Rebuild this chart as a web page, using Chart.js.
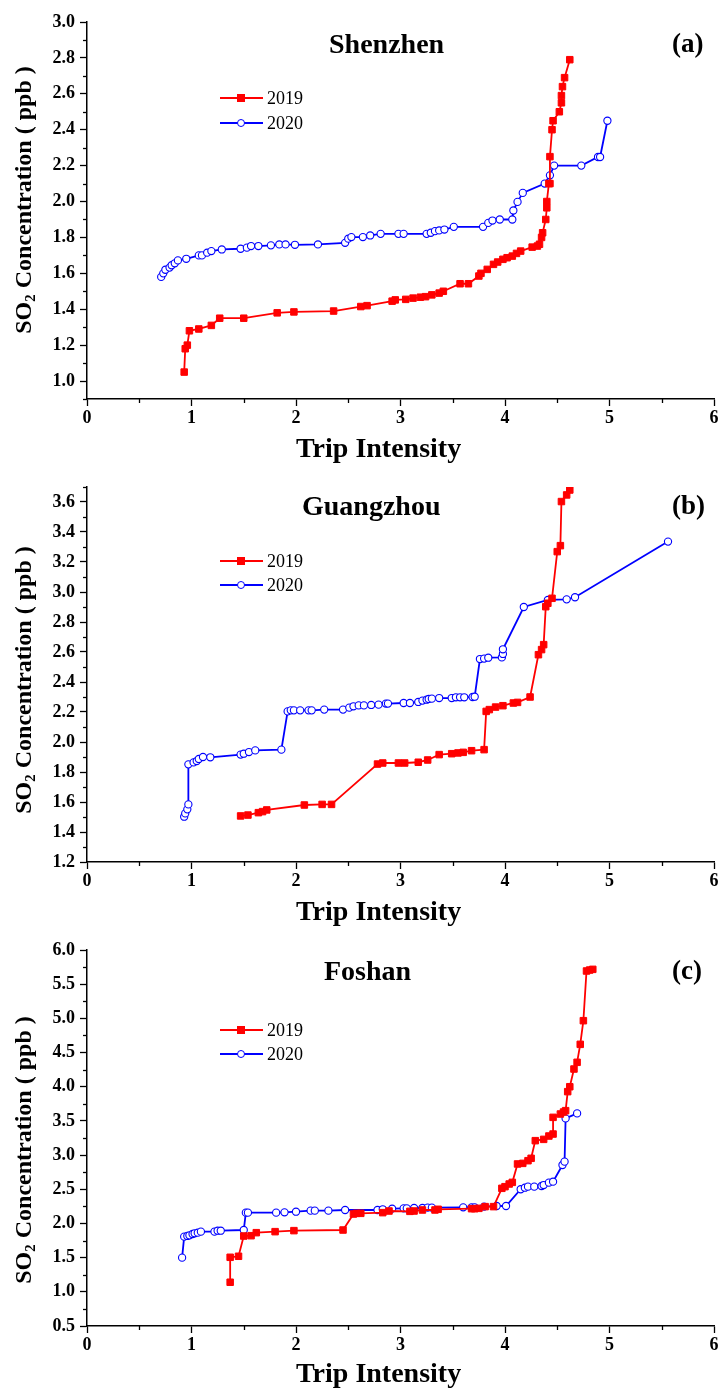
<!DOCTYPE html>
<html><head><meta charset="utf-8">
<script src="https://cdn.jsdelivr.net/npm/chart.js@4.4.1/dist/chart.umd.min.js"></script>
<style>
html,body{margin:0;padding:0;background:#fff;}
body{width:724px;height:1390px;position:relative;overflow:hidden;font-family:"Liberation Serif","Times New Roman",serif;}
canvas{position:absolute;left:0;}
.t{position:absolute;white-space:nowrap;color:#000;line-height:1;z-index:5;}
.b{font-weight:bold;}
.yt{position:absolute;white-space:nowrap;color:#000;line-height:1;font-weight:bold;text-align:center;transform:rotate(-90deg);transform-origin:50% 50%;z-index:5;}
.yt sub{font-size:0.62em;vertical-align:-0.25em;line-height:0;}
.lg{position:absolute;z-index:5;}
</style></head><body>
<script>
// ---------- data ----------
const seriesNames = ['2019', '2020'];
const cityNames = ['Shenzhen', 'Guangzhou', 'Foshan'];
const panelLetters = ['(a)', '(b)', '(c)'];
const xAxisTitle = 'Trip Intensity';
const yAxisTitle = ['SO', '2', ' Concentration ( ppb )'];
const xTicks = [0, 1, 2, 3, 4, 5, 6];
const yTicksA = [1.0, 1.2, 1.4, 1.6, 1.8, 2.0, 2.2, 2.4, 2.6, 2.8, 3.0];
const yTicksB = [1.2, 1.4, 1.6, 1.8, 2.0, 2.2, 2.4, 2.6, 2.8, 3.0, 3.2, 3.4, 3.6];
const yTicksC = [0.5, 1.0, 1.5, 2.0, 2.5, 3.0, 3.5, 4.0, 4.5, 5.0, 5.5, 6.0];

// Shenzhen
const sz19x = [0.93,0.94,0.96,0.98,1.07,1.19,1.27,1.50,1.82,1.98,2.36,2.62,2.68,2.92,2.95,3.05,3.12,3.19,3.24,3.30,3.37,3.41,3.57,3.65,3.75,3.77,3.83,3.89,3.93,3.98,4.02,4.07,4.11,4.15,4.26,4.31,4.33,4.35,4.36,4.39,4.40,4.40,4.42,4.43,4.43,4.45,4.46,4.52,4.54,4.54,4.55,4.57,4.62];
const sz19y = [1.05,1.18,1.20,1.28,1.29,1.31,1.35,1.35,1.38,1.385,1.39,1.415,1.42,1.445,1.452,1.455,1.462,1.467,1.47,1.48,1.49,1.50,1.542,1.542,1.585,1.60,1.622,1.65,1.663,1.678,1.687,1.696,1.711,1.724,1.746,1.752,1.762,1.80,1.826,1.90,1.965,2.0,2.10,2.10,2.25,2.40,2.45,2.50,2.55,2.59,2.64,2.69,2.79];
const sz20x = [0.71,0.73,0.75,0.79,0.81,0.84,0.87,0.95,1.07,1.10,1.15,1.19,1.29,1.47,1.53,1.57,1.64,1.76,1.84,1.90,1.99,2.21,2.47,2.50,2.53,2.64,2.71,2.81,2.98,3.03,3.25,3.29,3.33,3.37,3.42,3.51,3.79,3.84,3.88,3.95,4.07,4.08,4.12,4.17,4.38,4.43,4.47,4.73,4.89,4.91,4.98];
const sz20y = [1.58,1.60,1.62,1.632,1.645,1.656,1.672,1.681,1.70,1.70,1.715,1.724,1.733,1.737,1.743,1.752,1.752,1.756,1.761,1.761,1.759,1.761,1.77,1.793,1.802,1.802,1.811,1.82,1.82,1.82,1.82,1.826,1.835,1.839,1.844,1.859,1.859,1.881,1.894,1.90,1.90,1.95,1.998,2.048,2.10,2.146,2.20,2.20,2.248,2.248,2.45];

// Guangzhou
const gz19x = [1.47,1.54,1.64,1.68,1.72,2.08,2.25,2.34,2.78,2.83,2.98,3.04,3.17,3.26,3.37,3.49,3.55,3.60,3.68,3.80,3.82,3.85,3.91,3.98,4.08,4.12,4.24,4.32,4.35,4.37,4.39,4.41,4.45,4.50,4.53,4.54,4.59,4.62];
const gz19y = [1.507,1.513,1.529,1.536,1.547,1.58,1.584,1.584,1.853,1.86,1.86,1.86,1.865,1.88,1.916,1.922,1.927,1.931,1.942,1.949,2.204,2.216,2.233,2.242,2.26,2.264,2.30,2.582,2.616,2.649,2.902,2.925,2.958,3.269,3.309,3.603,3.647,3.68];
const gz20x = [0.93,0.94,0.96,0.97,0.97,1.02,1.05,1.07,1.11,1.18,1.47,1.50,1.55,1.61,1.86,1.92,1.95,1.98,2.04,2.12,2.15,2.27,2.45,2.51,2.55,2.60,2.65,2.72,2.79,2.86,2.88,3.03,3.09,3.17,3.21,3.25,3.27,3.30,3.37,3.49,3.53,3.57,3.61,3.69,3.71,3.76,3.80,3.84,3.97,3.98,3.98,4.18,4.41,4.59,4.67,5.56];
const gz20y = [1.502,1.524,1.551,1.584,1.851,1.864,1.873,1.887,1.90,1.898,1.916,1.922,1.933,1.944,1.949,2.204,2.211,2.211,2.211,2.211,2.211,2.216,2.216,2.229,2.238,2.244,2.244,2.247,2.249,2.256,2.256,2.26,2.26,2.267,2.276,2.282,2.287,2.289,2.293,2.293,2.298,2.298,2.298,2.30,2.302,2.553,2.556,2.562,2.564,2.587,2.618,2.90,2.947,2.951,2.965,3.336];

// Foshan
const fs19x = [1.37,1.37,1.45,1.50,1.57,1.62,1.80,1.98,2.45,2.55,2.58,2.62,2.83,2.89,3.09,3.13,3.21,3.33,3.36,3.68,3.71,3.75,3.81,3.89,3.97,4.00,4.04,4.07,4.12,4.17,4.22,4.25,4.29,4.37,4.42,4.46,4.46,4.53,4.56,4.58,4.60,4.62,4.66,4.69,4.72,4.75,4.78,4.81,4.84];
const fs19y = [1.14,1.505,1.52,1.816,1.821,1.865,1.88,1.895,1.904,2.138,2.148,2.148,2.158,2.182,2.177,2.182,2.197,2.197,2.207,2.216,2.216,2.221,2.246,2.246,2.514,2.538,2.577,2.601,2.87,2.879,2.918,2.953,3.211,3.23,3.279,3.308,3.552,3.601,3.63,3.65,3.928,4.0,4.259,4.357,4.62,4.966,5.693,5.707,5.717];
const fs20x = [0.91,0.93,0.96,0.98,1.01,1.03,1.06,1.09,1.22,1.25,1.28,1.50,1.52,1.54,1.81,1.89,2.00,2.14,2.18,2.31,2.47,2.78,2.83,2.92,3.03,3.06,3.13,3.21,3.26,3.30,3.60,3.68,3.71,3.80,3.92,4.01,4.15,4.19,4.22,4.28,4.35,4.37,4.42,4.46,4.55,4.57,4.58,4.69];
const fs20y = [1.50,1.807,1.817,1.826,1.846,1.856,1.865,1.88,1.88,1.894,1.894,1.904,2.158,2.158,2.158,2.163,2.172,2.187,2.187,2.187,2.197,2.197,2.207,2.216,2.221,2.221,2.226,2.226,2.231,2.231,2.236,2.236,2.236,2.246,2.255,2.255,2.50,2.523,2.538,2.538,2.548,2.562,2.597,2.611,2.855,2.904,3.537,3.61];

// ---------- layout / style ----------
const FONT = '"Liberation Serif","Times New Roman",serif';
const seriesColors = ['#ff0000', '#0000ff'];
const panels = [
  {top: 0,   plotTop: 22,  plotBottom: 399,  canvasH: 470, ymin: 0.9, ymax: 3.0, yTicks: yTicksA, x19: sz19x, y19: sz19y, x20: sz20x, y20: sz20y,
   titleX: 329, letterX: 672, titleBase: 53, legendY: [98, 123], xTitleBase: 457, yTitleC: 200},
  {top: 466, plotTop: 487, plotBottom: 862,  canvasH: 470, ymin: 1.2, ymax: 3.7, yTicks: yTicksB, x19: gz19x, y19: gz19y, x20: gz20x, y20: gz20y,
   titleX: 302, letterX: 672, titleBase: 515, legendY: [561, 585], xTitleBase: 920, yTitleC: 680},
  {top: 930, plotTop: 950, plotBottom: 1326, canvasH: 460, ymin: 0.5, ymax: 6.0, yTicks: yTicksC, x19: fs19x, y19: fs19y, x20: fs20x, y20: fs20y,
   titleX: 324, letterX: 672, titleBase: 980, legendY: [1030, 1054], xTitleBase: 1382, yTitleC: 1150}
];

function zip(xs, ys) { return xs.map((x, i) => ({x: x, y: ys[i]})); }
function mids(arr, lo, hi) {
  const out = [];
  for (let i = 0; i < arr.length - 1; i++) out.push((arr[i] + arr[i + 1]) / 2);
  if (lo < arr[0] - 1e-9) out.push(lo);
  if (hi > arr[arr.length - 1] + 1e-9) out.push(hi);
  return out;
}

const minorTicks = {
  id: 'minorTicks',
  afterDraw(chart) {
    const o = chart.options.plugins.minorTicks;
    const xs = chart.scales.x, ys = chart.scales.y;
    const ctx = chart.ctx;
    ctx.save();
    ctx.strokeStyle = '#000';
    ctx.lineWidth = 1.3;
    o.x.forEach(v => {
      const px = Math.round(xs.getPixelForValue(v)) + 0.5;
      ctx.beginPath(); ctx.moveTo(px, ys.bottom); ctx.lineTo(px, ys.bottom + 4); ctx.stroke();
    });
    o.y.forEach(v => {
      const py = Math.round(ys.getPixelForValue(v)) + 0.5;
      ctx.beginPath(); ctx.moveTo(xs.left, py); ctx.lineTo(xs.left - 4, py); ctx.stroke();
    });
    ctx.restore();
  }
};

function addText(txt, left, base, size, bold) {
  const d = document.createElement('div');
  d.className = 't' + (bold ? ' b' : '');
  d.style.fontSize = size + 'px';
  d.style.left = left + 'px';
  d.style.top = (base - 0.8375 * size) + 'px';
  d.textContent = txt;
  document.body.appendChild(d);
}

function addYTitle(cx, cy) {
  const size = 24, W = 360;
  const d = document.createElement('div');
  d.className = 'yt';
  d.style.fontSize = size + 'px';
  d.style.width = W + 'px';
  d.style.height = size + 'px';
  d.style.left = (cx - W / 2) + 'px';
  d.style.top = (cy - size / 2) + 'px';
  d.innerHTML = yAxisTitle[0] + '<sub>' + yAxisTitle[1] + '</sub>' + yAxisTitle[2];
  document.body.appendChild(d);
}

function addLegend(cy, i) {
  const c = seriesColors[i];
  const line = document.createElement('div');
  line.className = 'lg';
  Object.assign(line.style, {left: '220px', top: (cy - 1) + 'px', width: '43px', height: '2px', background: c});
  document.body.appendChild(line);
  const m = document.createElement('div');
  m.className = 'lg';
  if (i === 0) {
    Object.assign(m.style, {left: '237px', top: (cy - 4) + 'px', width: '8px', height: '8px', background: c});
  } else {
    Object.assign(m.style, {left: '237px', top: (cy - 4) + 'px', width: '6px', height: '6px', background: '#fff', border: '1px solid ' + c, borderRadius: '50%'});
  }
  document.body.appendChild(m);
  addText(seriesNames[i], 267, cy + 6, 18, false);
}

panels.forEach((p, idx) => {
  const cv = document.createElement('canvas');
  cv.width = 724; cv.height = p.canvasH;
  cv.style.top = p.top + 'px';
  cv.style.width = '724px'; cv.style.height = p.canvasH + 'px';
  document.body.appendChild(cv);
  const xH = p.canvasH - (p.plotBottom - p.top);
  new Chart(cv, {
    type: 'scatter',
    data: {
      datasets: [
        {label: seriesNames[0], data: zip(p.x19, p.y19), showLine: true,
         borderColor: seriesColors[0], backgroundColor: seriesColors[0], borderWidth: 1.8,
         pointStyle: 'rect', pointRadius: 4.6, pointBorderWidth: 1, pointBorderColor: seriesColors[0], pointBackgroundColor: seriesColors[0]},
        {label: seriesNames[1], data: zip(p.x20, p.y20), showLine: true,
         borderColor: seriesColors[1], backgroundColor: '#ffffff', borderWidth: 1.8,
         pointStyle: 'circle', pointRadius: 3.6, pointBorderWidth: 1.1, pointBorderColor: seriesColors[1], pointBackgroundColor: '#ffffff'}
      ]
    },
    options: {
      responsive: false, animation: false, devicePixelRatio: 1,
      layout: {padding: {top: p.plotTop - p.top, right: 10, left: 0, bottom: 0}},
      plugins: {legend: {display: false}, tooltip: {enabled: false},
        minorTicks: {x: mids(xTicks, 0, 6), y: mids(p.yTicks, p.ymin, p.ymax)}},
      scales: {
        x: {
          type: 'linear', min: 0, max: 6,
          afterBuildTicks: s => { s.ticks = xTicks.map(v => ({value: v})); },
          afterFit: s => { s.height = xH; },
          grid: {drawOnChartArea: false, tickLength: 7, tickColor: '#000', tickWidth: 1.3, color: '#000'},
          border: {color: '#000', width: 1.5},
          ticks: {color: '#000', font: {family: FONT, weight: 'bold', size: 18}, padding: 2, maxRotation: 0, autoSkip: false,
                  callback: v => String(v)}
        },
        y: {
          type: 'linear', min: p.ymin, max: p.ymax,
          afterBuildTicks: s => { s.ticks = p.yTicks.map(v => ({value: v})); },
          afterFit: s => { s.width = 87; },
          grid: {drawOnChartArea: false, tickLength: 7, tickColor: '#000', tickWidth: 1.3, color: '#000'},
          border: {color: '#000', width: 1.5},
          ticks: {color: '#000', font: {family: FONT, weight: 'bold', size: 18}, padding: 5, autoSkip: false,
                  callback: v => Number(v).toFixed(1)}
        }
      }
    },
    plugins: [minorTicks]
  });

  addText(cityNames[idx], p.titleX, p.titleBase, 28, true);
  addText(panelLetters[idx], p.letterX, p.titleBase, 27, true);
  addLegend(p.legendY[0], 0);
  addLegend(p.legendY[1], 1);
  addText(xAxisTitle, 296, p.xTitleBase, 28, true);
  addYTitle(23, p.yTitleC);
});
</script>
</body></html>
